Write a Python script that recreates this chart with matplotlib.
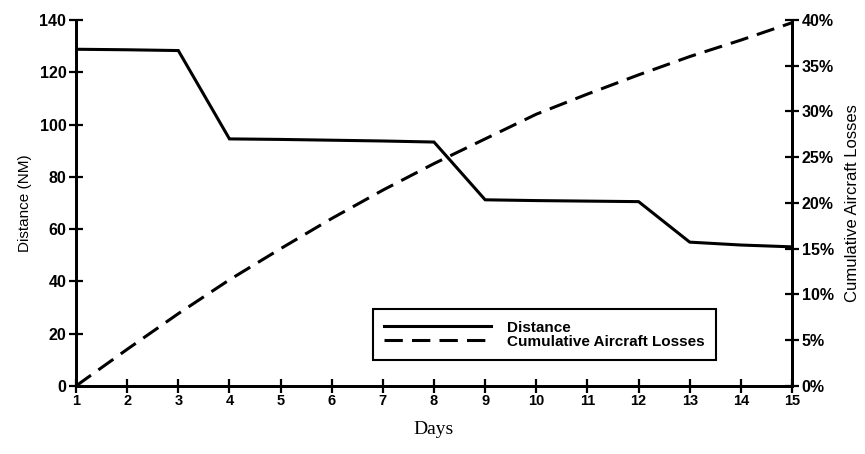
import numpy as np
import matplotlib
matplotlib.use('Agg')
import matplotlib.pyplot as plt
from matplotlib.ticker import FuncFormatter

days = [1, 2, 3, 4, 5, 6, 7, 8, 9, 10, 11, 12, 13, 14, 15]
distance = [128.8, 128.6, 128.3, 94.5, 94.3, 94.0, 93.7, 93.3, 71.2, 70.9, 70.7, 70.5, 55.0, 53.9, 53.2]
losses = [0.0, 4.0, 7.9, 11.6, 15.0, 18.3, 21.4, 24.3, 27.0, 29.7, 31.9, 34.0, 36.0, 37.8, 39.7]

plt.rcParams['font.family'] = ['Liberation Sans', 'DejaVu Sans']

fig = plt.figure(figsize=(8.65, 4.54), dpi=100)
ax = fig.add_axes([0.0879, 0.150, 0.8277, 0.806])
ax2 = ax.twinx()

l1, = ax.plot(days, distance, color='black', lw=2.2, solid_joinstyle='miter', label='Distance')
l2, = ax2.plot(days, np.array(losses) / 100, color='black', lw=2.2, dashes=(6, 3),
               label='Cumulative Aircraft Losses')

ax.set_xlim(1, 15)
ax.set_ylim(0, 140)
ax2.set_ylim(0, 0.40)
ax.set_xticks(days)
ax.set_yticks(range(0, 141, 20))
ax2.set_yticks(np.arange(0, 0.41, 0.05))
ax2.yaxis.set_major_formatter(FuncFormatter(lambda v, p: '%d%%' % round(v * 100)))

for a in (ax, ax2):
    a.spines['top'].set_visible(False)
    for s in ('left', 'right', 'bottom'):
        a.spines[s].set_linewidth(2.0)
    a.tick_params(direction='inout', length=10, width=1.6, labelsize=11.5, pad=2)
    for t in a.get_xticklabels() + a.get_yticklabels():
        t.set_fontweight('bold')
ax.tick_params(axis='x', labelsize=10.5, pad=1)

ax.set_ylabel('Distance (NM)', fontsize=11, labelpad=5)
ax2.set_ylabel('Cumulative Aircraft Losses', fontsize=12, labelpad=8)
ax.set_xlabel('Days', family=['Liberation Serif'], fontsize=14, labelpad=9)

leg = ax.legend([l1, l2], ['Distance', 'Cumulative Aircraft Losses'],
                loc='lower left', bbox_to_anchor=(0.404, 0.05), handlelength=7,
                labelspacing=0.0, borderpad=0.75, handletextpad=1.0, handleheight=0.6,
                fancybox=False, framealpha=1, edgecolor='black',
                prop={'weight': 'bold', 'size': 11})
leg.get_frame().set_linewidth(1.5)
leg.set_zorder(5)

fig.savefig('out.png', dpi=100)
